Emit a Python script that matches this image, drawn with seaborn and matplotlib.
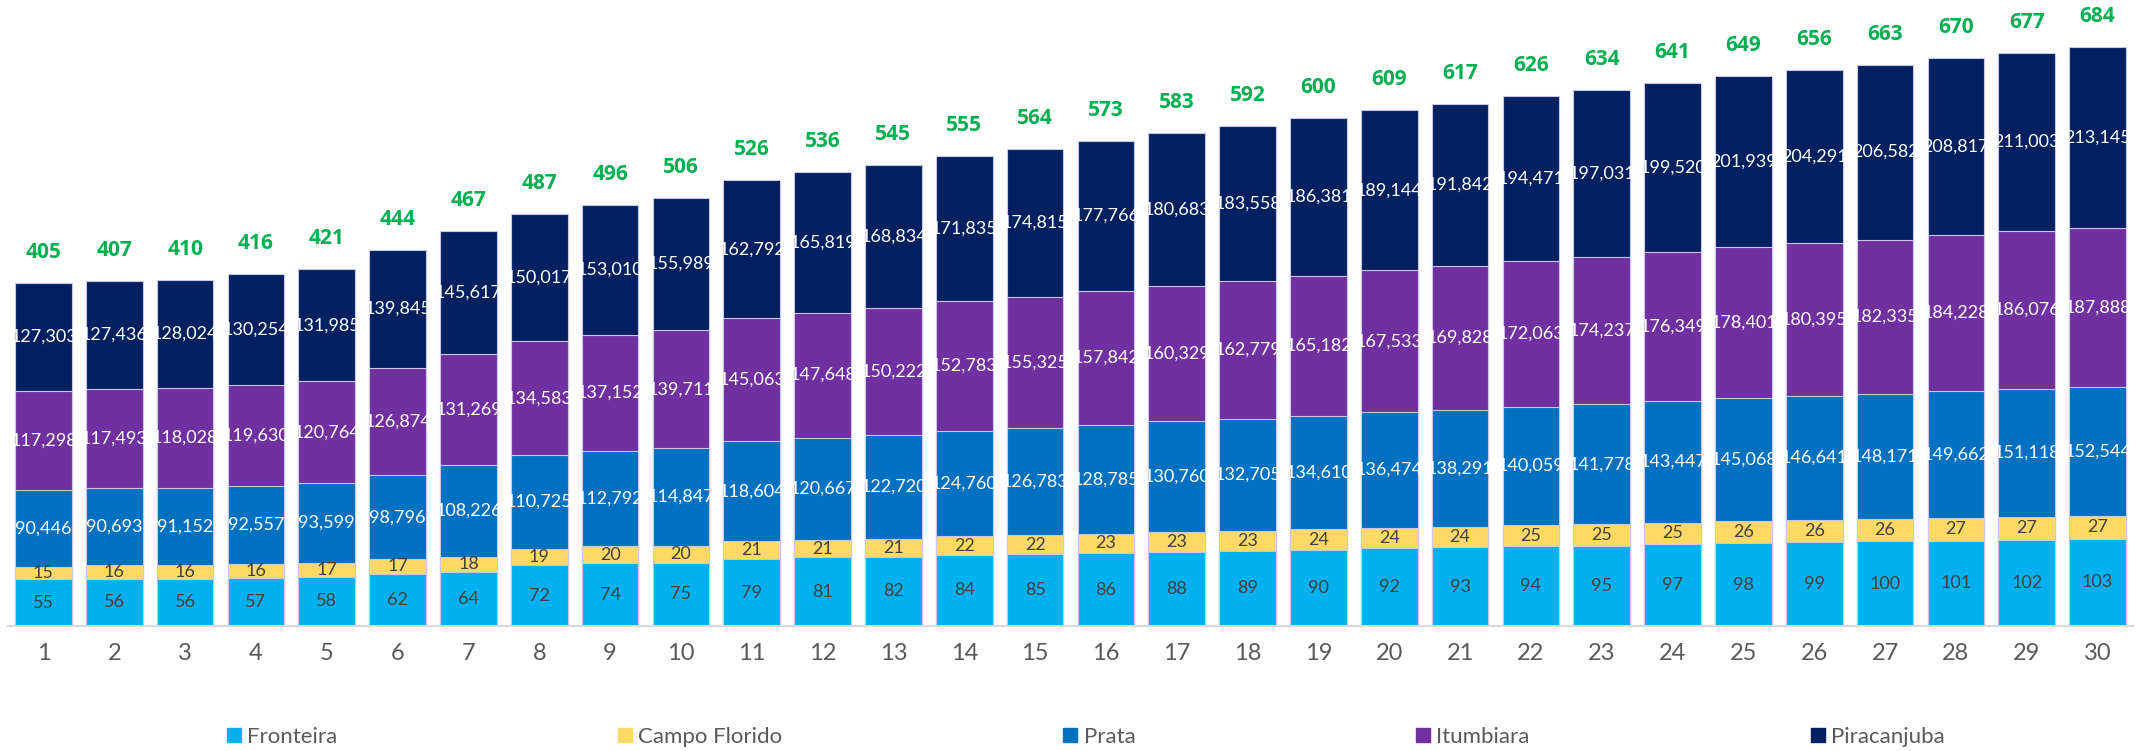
import matplotlib
matplotlib.use("Agg")
import matplotlib.pyplot as plt
import seaborn as sns
import pandas as pd
import numpy as np
from matplotlib.lines import Line2D

periods = [str(i) for i in range(1, 31)]
fronteira = [55, 56, 56, 57, 58, 62, 64, 72, 74, 75, 79, 81, 82, 84, 85,
             86, 88, 89, 90, 92, 93, 94, 95, 97, 98, 99, 100, 101, 102, 103]
campo_florido = [15, 16, 16, 16, 17, 17, 18, 19, 20, 20, 21, 21, 21, 22, 22,
                 23, 23, 23, 24, 24, 24, 25, 25, 25, 26, 26, 26, 27, 27, 27]
prata = [90.446, 90.693, 91.152, 92.557, 93.599, 98.796, 108.226, 110.725, 112.792, 114.847,
         118.604, 120.667, 122.720, 124.760, 126.783, 128.785, 130.760, 132.705, 134.610, 136.474,
         138.291, 140.059, 141.778, 143.447, 145.068, 146.641, 148.171, 149.662, 151.118, 152.544]
itumbiara = [117.298, 117.493, 118.028, 119.630, 120.764, 126.874, 131.269, 134.583, 137.152, 139.711,
             145.063, 147.648, 150.222, 152.783, 155.325, 157.842, 160.329, 162.779, 165.182, 167.533,
             169.828, 172.063, 174.237, 176.349, 178.401, 180.395, 182.335, 184.228, 186.076, 187.888]
piracanjuba = [127.303, 127.436, 128.024, 130.254, 131.985, 139.845, 145.617, 150.017, 153.010, 155.989,
               162.792, 165.819, 168.834, 171.835, 174.815, 177.766, 180.683, 183.558, 186.381, 189.144,
               191.842, 194.471, 197.031, 199.520, 201.939, 204.291, 206.582, 208.817, 211.003, 213.145]
totals = [405, 407, 410, 416, 421, 444, 467, 487, 496, 506, 526, 536, 545, 555, 564,
          573, 583, 592, 600, 609, 617, 626, 634, 641, 649, 656, 663, 670, 677, 684]

series_names = ["Fronteira", "Campo Florido", "Prata", "Itumbiara", "Piracanjuba"]
series_colors = ["#00B0F0", "#FFD966", "#0070C0", "#7030A0", "#002060"]
label_colors = ["#404040", "#404040", "white", "white", "white"]
decimals = [0, 0, 3, 3, 3]

sns.set_theme(style="white")
plt.rcParams["font.family"] = ["Lato", "DejaVu Sans"]

df = pd.DataFrame({"periodo": periods, "Fronteira": fronteira, "Campo Florido": campo_florido,
                   "Prata": prata, "Itumbiara": itumbiara, "Piracanjuba": piracanjuba})
stack = df[series_names].cumsum(axis=1)
bottoms = stack - df[series_names]

fig = plt.figure(figsize=(21.36, 7.51), dpi=100)
ax = fig.add_axes([8 / 2136, 125 / 751, 2125 / 2136, 626 / 751])

# stacked bars: draw the cumulative heights from tallest to shortest
for name, color in reversed(list(zip(series_names, series_colors))):
    sns.barplot(x=df["periodo"], y=stack[name], order=periods, color=color, saturation=1,
                width=0.8, edgecolor="#c8c8e6", linewidth=0.8, errorbar=None, ax=ax)

x = np.arange(len(periods))
for name, tcolor, dec in zip(series_names, label_colors, decimals):
    mids = bottoms[name] + df[name] / 2
    for xi, y, v in zip(x, mids, df[name]):
        txt = f"{v:.{dec}f}".replace(".", ",")
        ax.text(xi, y, txt, ha="center", va="center", color=tcolor, fontsize=13)

for xi, top, t in zip(x, stack["Piracanjuba"], totals):
    ax.annotate(str(t), (xi, top), xytext=(0, 22), textcoords="offset points",
                ha="center", va="center", color="#00B050", fontweight="bold", fontsize=15,
                family=["Open Sans", "DejaVu Sans"])

ax.set_xlim(-0.5, len(periods) - 0.5)
ax.set_ylim(0, 739.5)
ax.set_yticks([])
ax.set_xlabel("")
ax.set_ylabel("")
for s in ["top", "left", "right"]:
    ax.spines[s].set_visible(False)
ax.spines["bottom"].set_color("#d9d9d9")
ax.spines["bottom"].set_linewidth(1.5)
ax.tick_params(axis="x", length=0, pad=12, labelsize=17, colors="#595959")

handles = [Line2D([], [], marker="s", linestyle="", markersize=9.5, color=c) for c in series_colors]
fig.legend(handles, series_names, loc="center left", bbox_to_anchor=(227 / 2136, 14 / 751),
           ncol=5, frameon=False, fontsize=16, handlelength=0.6, handletextpad=0.3,
           columnspacing=12.65, labelcolor="#595959", borderpad=0, borderaxespad=0)

fig.savefig("out.png", dpi=100)
